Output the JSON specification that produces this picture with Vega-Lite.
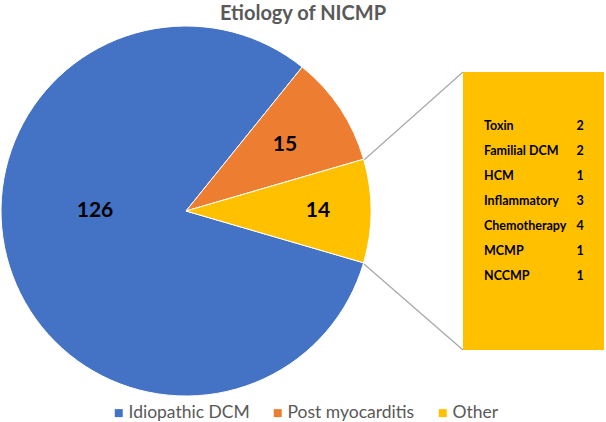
{
  "$schema": "https://vega.github.io/schema/vega-lite/v6.json",
  "width": 606,
  "height": 422,
  "autosize": {"type": "none"},
  "padding": 0,
  "background": "white",
  "config": {"view": {"stroke": null}, "font": "Lato"},
  "title": {
    "text": "Etiology of NICMP",
    "font": "Lato",
    "fontSize": 20,
    "fontWeight": "bold",
    "color": "#595959",
    "anchor": "middle",
    "frame": "group",
    "dy": 28
  },
  "datasets": {
    "main": [
      {"cause": "Idiopathic DCM", "count": 126},
      {"cause": "Post myocarditis", "count": 15},
      {"cause": "Other", "count": 14}
    ],
    "other": [
      {"cause": "Toxin", "count": 2},
      {"cause": "Familial DCM", "count": 2},
      {"cause": "HCM", "count": 1},
      {"cause": "Inflammatory", "count": 3},
      {"cause": "Chemotherapy", "count": 4},
      {"cause": "MCMP", "count": 1},
      {"cause": "NCCMP", "count": 1}
    ],
    "deco": [{}]
  },
  "layer": [
    {
      "layer": [
        {
          "data": {"name": "deco"},
          "mark": {"type": "rect", "color": "#FFC000"},
          "encoding": {
            "x": {"datum": 463, "type": "quantitative", "scale": {"domain": [0, 606], "nice": false, "zero": false}, "axis": null},
            "x2": {"datum": 604},
            "y": {"datum": 72, "type": "quantitative", "scale": {"domain": [0, 422], "reverse": true, "nice": false, "zero": false}, "axis": null},
            "y2": {"datum": 350}
          }
        },
        {
          "data": {"name": "deco"},
          "mark": {"type": "rule", "color": "#A6A6A6", "strokeWidth": 1.2},
          "encoding": {
            "x": {"datum": 364, "type": "quantitative"},
            "x2": {"datum": 463},
            "y": {"datum": 160, "type": "quantitative"},
            "y2": {"datum": 72}
          }
        },
        {
          "data": {"name": "deco"},
          "mark": {"type": "rule", "color": "#A6A6A6", "strokeWidth": 1.2},
          "encoding": {
            "x": {"datum": 364, "type": "quantitative"},
            "x2": {"datum": 463},
            "y": {"datum": 264, "type": "quantitative"},
            "y2": {"datum": 350}
          }
        },
        {
          "data": {"name": "main"},
          "mark": {"type": "arc", "outerRadius": 185, "stroke": "white", "strokeWidth": 1},
          "encoding": {
            "x": {"datum": 186, "type": "quantitative"},
            "y": {"datum": 211, "type": "quantitative"},
            "theta": {"field": "count", "type": "quantitative", "stack": true, "scale": {"range": [1.8546, 8.1378]}},
            "order": {"field": "count", "sort": "descending"},
            "color": {
              "field": "cause",
              "type": "nominal",
              "sort": null,
              "scale": {"domain": ["Idiopathic DCM", "Post myocarditis", "Other"], "range": ["#4472C4", "#ED7D31", "#FFC000"]},
              "legend": {
                "title": null,
                "orient": "none",
                "direction": "horizontal",
                "legendX": 110,
                "legendY": 404,
                "padding": 0,
                "symbolType": "square",
                "symbolSize": 64,
                "symbolStrokeWidth": 0,
                "labelFont": "Lato",
                "labelFontSize": 17.5,
                "labelColor": "#595959",
                "labelOffset": 1,
                "columnPadding": 19
              }
            }
          }
        },
        {
          "data": {"name": "main"},
          "mark": {
            "type": "text",
            "font": "Lato",
            "fontSize": 21,
            "fontWeight": "bold",
            "color": "#000000",
            "radius": {"expr": "datum.count > 100 ? 91 : (datum.cause == 'Other' ? 132 : 119)"},
            "thetaOffset": {"expr": "datum.count > 100 ? 0.304 : 0"}
          },
          "encoding": {
            "x": {"datum": 186, "type": "quantitative"},
            "y": {"datum": 211, "type": "quantitative"},
            "theta": {"field": "count", "type": "quantitative", "stack": true, "scale": {"range": [1.8546, 8.1378]}},
            "order": {"field": "count", "sort": "descending"},
            "text": {"field": "count", "type": "quantitative"}
          }
        }
      ]
    },
    {
      "data": {"name": "other"},
      "mark": {"type": "text", "align": "left", "font": "Lato", "fontSize": 12.5, "fontWeight": "bold", "color": "#000000"},
      "encoding": {
        "x": {"datum": 484, "type": "quantitative"},
        "y": {"field": "cause", "type": "ordinal", "sort": null, "scale": {"type": "point", "range": [126, 276], "padding": 0}, "axis": null},
        "text": {"field": "cause"}
      }
    },
    {
      "data": {"name": "other"},
      "mark": {"type": "text", "align": "center", "font": "Lato", "fontSize": 12.5, "fontWeight": "bold", "color": "#000000"},
      "encoding": {
        "x": {"datum": 580, "type": "quantitative"},
        "y": {"field": "cause", "type": "ordinal", "sort": null, "scale": {"type": "point", "range": [126, 276], "padding": 0}, "axis": null},
        "text": {"field": "count"}
      }
    }
  ],
  "resolve": {"scale": {"y": "independent"}}
}
